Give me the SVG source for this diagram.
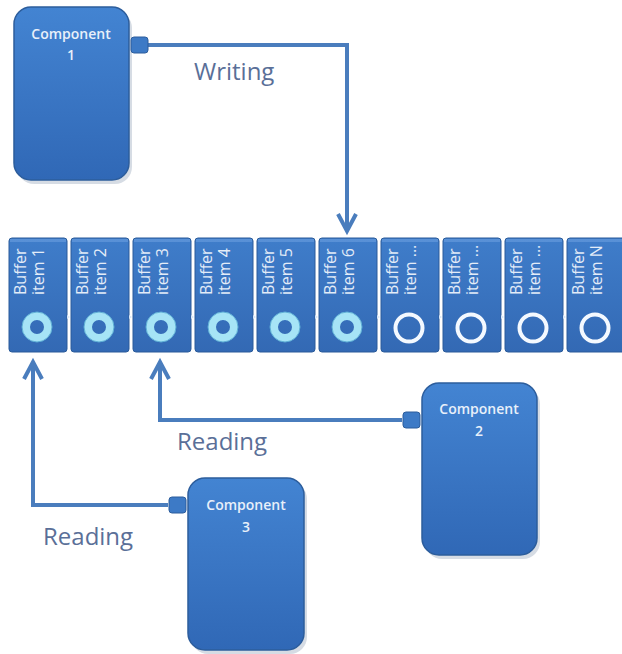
<svg xmlns="http://www.w3.org/2000/svg" width="622" height="654" viewBox="0 0 622 654">
<style>
.comp{fill:url(#gComp);stroke:#2c5d9c;stroke-width:1.5}
.shadow{fill:#8a9bb3;opacity:0.35}
.tab{fill:#3d7ac6;stroke:#2c5d9c;stroke-width:1}
.ctext{font-family:"Open Sans","Liberation Sans",sans-serif;font-size:14px;font-weight:600;fill:#e8f0fa;text-anchor:middle}
.cell{fill:url(#gCell);stroke:#2a5b9a;stroke-width:1}
.bevel{fill:#6a9ee0;opacity:0.6}
.btext{font-family:"Open Sans","Liberation Sans",sans-serif;font-size:16px;fill:#e3ecf8}
.ringc{fill:none;stroke:#a6e4f6;stroke-width:8}
.ringce{fill:none;stroke:#5fb0d6;stroke-width:1}
.ringw{fill:none;stroke:#f4f9ff;stroke-width:4}
.link{fill:none;stroke:#4a7dbd;stroke-width:4;stroke-linejoin:miter}
.lbl{font-family:"Open Sans","Liberation Sans",sans-serif;font-size:24px;fill:#5a6f98}
.nub{fill:#d8e6f6}
</style>
<defs>
<linearGradient id="gComp" x1="0" y1="0" x2="0" y2="1">
<stop offset="0" stop-color="#4384d2"/>
<stop offset="0.5" stop-color="#3a76c4"/>
<stop offset="1" stop-color="#3068b6"/>
</linearGradient>
<linearGradient id="gCell" x1="0" y1="0" x2="0" y2="1">
<stop offset="0" stop-color="#3f7dca"/>
<stop offset="1" stop-color="#3369b4"/>
</linearGradient>
<marker id="arr" markerUnits="userSpaceOnUse" viewBox="-22 -14 28 28" markerWidth="28" markerHeight="28" refX="0" refY="0" orient="auto">
<path d="M-17,-9 L0,0 L-17,9" fill="none" stroke="#4a7dbd" stroke-width="4"/>
</marker>
</defs>
<rect width="622" height="654" fill="#ffffff"/>

<g id="connectors">
<path class="link" d="M148,45 H347 V231" marker-end="url(#arr)"/>
<path class="link" d="M402,420 H160 V362" marker-end="url(#arr)"/>
<path class="link" d="M168,505 H33 V362" marker-end="url(#arr)"/>
</g>

<g id="component-1">
<rect class="shadow" x="17" y="11" width="115" height="173" rx="17"/>
<rect class="comp" x="14" y="7" width="115" height="173" rx="17"/>
<rect class="tab" x="131" y="37" width="17" height="16" rx="3"/>
<text class="ctext" x="71" y="39">Component</text>
<text class="ctext" x="71" y="60">1</text>
</g>

<g id="component-2">
<rect class="shadow" x="425" y="387" width="115" height="172" rx="17"/>
<rect class="comp" x="422" y="383" width="115" height="172" rx="17"/>
<rect class="tab" x="403" y="412" width="17" height="16" rx="3"/>
<text class="ctext" x="479" y="414">Component</text>
<text class="ctext" x="479" y="436">2</text>
</g>

<g id="component-3">
<rect class="shadow" x="191" y="482" width="116" height="172" rx="17"/>
<rect class="comp" x="188" y="478" width="116" height="172" rx="17"/>
<rect class="tab" x="169" y="497" width="17" height="16" rx="3"/>
<text class="ctext" x="246" y="510">Component</text>
<text class="ctext" x="246" y="532">3</text>
</g>

<g id="buffer-item-1">
<rect class="cell" x="9" y="238" width="58" height="114" rx="3"/>
<rect class="bevel" x="10" y="239" width="56" height="3"/>
<text class="btext" transform="translate(26,295) rotate(-90)">Buffer</text>
<text class="btext" transform="translate(44,295) rotate(-90)">item 1</text>
<circle class="ringc" cx="37" cy="327" r="11"/><circle class="ringce" cx="37" cy="327" r="15"/>
</g>
<g id="buffer-item-2">
<rect class="cell" x="71" y="238" width="58" height="114" rx="3"/>
<rect class="bevel" x="72" y="239" width="56" height="3"/>
<text class="btext" transform="translate(88,295) rotate(-90)">Buffer</text>
<text class="btext" transform="translate(106,295) rotate(-90)">item 2</text>
<circle class="ringc" cx="99" cy="327" r="11"/><circle class="ringce" cx="99" cy="327" r="15"/>
</g>
<g id="buffer-item-3">
<rect class="cell" x="133" y="238" width="58" height="114" rx="3"/>
<rect class="bevel" x="134" y="239" width="56" height="3"/>
<text class="btext" transform="translate(150,295) rotate(-90)">Buffer</text>
<text class="btext" transform="translate(168,295) rotate(-90)">item 3</text>
<circle class="ringc" cx="161" cy="327" r="11"/><circle class="ringce" cx="161" cy="327" r="15"/>
</g>
<g id="buffer-item-4">
<rect class="cell" x="195" y="238" width="58" height="114" rx="3"/>
<rect class="bevel" x="196" y="239" width="56" height="3"/>
<text class="btext" transform="translate(212,295) rotate(-90)">Buffer</text>
<text class="btext" transform="translate(230,295) rotate(-90)">item 4</text>
<circle class="ringc" cx="223" cy="327" r="11"/><circle class="ringce" cx="223" cy="327" r="15"/>
</g>
<g id="buffer-item-5">
<rect class="cell" x="257" y="238" width="58" height="114" rx="3"/>
<rect class="bevel" x="258" y="239" width="56" height="3"/>
<text class="btext" transform="translate(274,295) rotate(-90)">Buffer</text>
<text class="btext" transform="translate(292,295) rotate(-90)">item 5</text>
<circle class="ringc" cx="285" cy="327" r="11"/><circle class="ringce" cx="285" cy="327" r="15"/>
</g>
<g id="buffer-item-6">
<rect class="cell" x="319" y="238" width="58" height="114" rx="3"/>
<rect class="bevel" x="320" y="239" width="56" height="3"/>
<text class="btext" transform="translate(336,295) rotate(-90)">Buffer</text>
<text class="btext" transform="translate(354,295) rotate(-90)">item 6</text>
<circle class="ringc" cx="347" cy="327" r="11"/><circle class="ringce" cx="347" cy="327" r="15"/>
</g>
<g id="buffer-item-7">
<rect class="cell" x="381" y="238" width="58" height="114" rx="3"/>
<rect class="bevel" x="382" y="239" width="56" height="3"/>
<text class="btext" transform="translate(398,295) rotate(-90)">Buffer</text>
<text class="btext" transform="translate(416,295) rotate(-90)">item ...</text>
<circle class="ringw" cx="409" cy="328" r="13.5"/>
</g>
<g id="buffer-item-8">
<rect class="cell" x="443" y="238" width="58" height="114" rx="3"/>
<rect class="bevel" x="444" y="239" width="56" height="3"/>
<text class="btext" transform="translate(460,295) rotate(-90)">Buffer</text>
<text class="btext" transform="translate(478,295) rotate(-90)">item ...</text>
<circle class="ringw" cx="471" cy="328" r="13.5"/>
</g>
<g id="buffer-item-9">
<rect class="cell" x="505" y="238" width="58" height="114" rx="3"/>
<rect class="bevel" x="506" y="239" width="56" height="3"/>
<text class="btext" transform="translate(522,295) rotate(-90)">Buffer</text>
<text class="btext" transform="translate(540,295) rotate(-90)">item ...</text>
<circle class="ringw" cx="533" cy="328" r="13.5"/>
</g>
<g id="buffer-item-N">
<rect class="cell" x="567" y="238" width="58" height="114" rx="3"/>
<rect class="bevel" x="568" y="239" width="56" height="3"/>
<text class="btext" transform="translate(584,295) rotate(-90)">Buffer</text>
<text class="btext" transform="translate(602,295) rotate(-90)">item N</text>
<circle class="ringw" cx="595" cy="328" r="13.5"/>
</g>

<g id="buffer-links">
<path class="nub" d="M67,315 l3,2 l-3,2 z"/>
<path class="nub" d="M129,315 l3,2 l-3,2 z"/>
<path class="nub" d="M191,315 l3,2 l-3,2 z"/>
<path class="nub" d="M253,315 l3,2 l-3,2 z"/>
<path class="nub" d="M315,315 l3,2 l-3,2 z"/>
<path class="nub" d="M377,315 l3,2 l-3,2 z"/>
<path class="nub" d="M439,315 l3,2 l-3,2 z"/>
<path class="nub" d="M501,315 l3,2 l-3,2 z"/>
<path class="nub" d="M563,315 l3,2 l-3,2 z"/>
</g>

<g id="labels">
<text class="lbl" x="194" y="80">Writing</text>
<text class="lbl" x="177" y="450">Reading</text>
<text class="lbl" x="43" y="545">Reading</text>
</g>
</svg>
